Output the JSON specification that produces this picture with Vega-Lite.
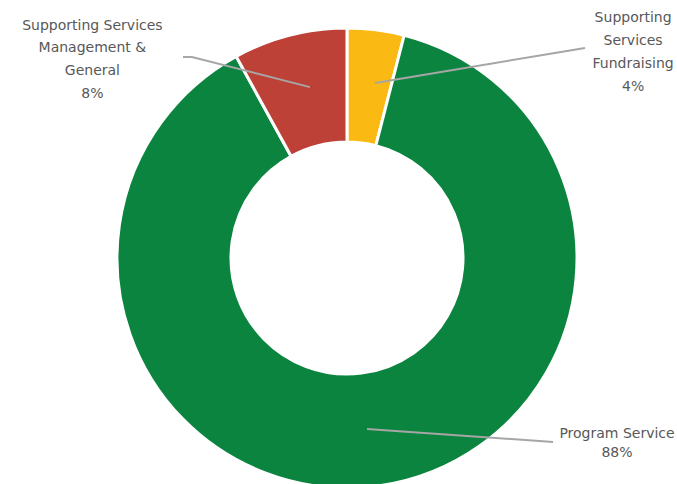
{
  "$schema": "https://vega.github.io/schema/vega-lite/v6.json",
  "width": 677,
  "height": 484,
  "padding": 0,
  "autosize": {"type": "none"},
  "background": "white",
  "config": {"view": {"stroke": null}},
  "datasets": {
    "slices": [
      {"category": "Supporting Services Fundraising", "value": 4, "order": 1},
      {"category": "Program Service", "value": 88, "order": 2},
      {"category": "Supporting Services Management & General", "value": 8, "order": 3}
    ],
    "leaders": [
      {"category": "Management & General", "step": 1, "lx": -0.713, "ly": 0.874},
      {"category": "Management & General", "step": 2, "lx": -0.674, "ly": 0.874},
      {"category": "Management & General", "step": 3, "lx": -0.161, "ly": 0.743},
      {"category": "Fundraising", "step": 1, "lx": 1.035, "ly": 0.913},
      {"category": "Fundraising", "step": 2, "lx": 0.122, "ly": 0.761},
      {"category": "Program Service", "step": 1, "lx": 0.896, "ly": -0.800},
      {"category": "Program Service", "step": 2, "lx": 0.087, "ly": -0.743}
    ],
    "labels": [
      {"category": "Management & General", "group": "a", "label": "Supporting Services\nManagement &\nGeneral\n8%", "lx": -1.107, "ly": 1.040},
      {"category": "Fundraising", "group": "a", "label": "Supporting\nServices\nFundraising\n4%", "lx": 1.244, "ly": 1.072},
      {"category": "Program Service", "group": "b", "label": "Program Service\n88%", "lx": 1.174, "ly": -0.734}
    ]
  },
  "layer": [
    {
      "data": {"name": "slices"},
      "mark": {"type": "arc", "outerRadius": 230, "innerRadius": 116, "stroke": "white", "strokeWidth": 3},
      "encoding": {
        "theta": {"field": "value", "type": "quantitative", "stack": true},
        "order": {"field": "order", "type": "quantitative"},
        "color": {
          "field": "category",
          "type": "nominal",
          "scale": {
            "domain": ["Supporting Services Fundraising", "Program Service", "Supporting Services Management & General"],
            "range": ["#fbb913", "#0a843e", "#be4138"]
          },
          "legend": null
        },
        "x": {"datum": 0, "type": "quantitative", "scale": {"domain": [-1.5087, 1.4348], "nice": false, "zero": false}, "axis": null},
        "y": {"datum": 0, "type": "quantitative", "scale": {"domain": [-0.9826, 1.1217], "nice": false, "zero": false}, "axis": null}
      }
    },
    {
      "data": {"name": "leaders"},
      "mark": {"type": "line", "color": "#a6a6a6", "strokeWidth": 2},
      "encoding": {
        "x": {"field": "lx", "type": "quantitative"},
        "y": {"field": "ly", "type": "quantitative"},
        "detail": {"field": "category"},
        "order": {"field": "step", "type": "quantitative"}
      }
    },
    {
      "data": {"name": "labels"},
      "transform": [{"filter": "datum.group === 'a'"}],
      "mark": {"type": "text", "lineBreak": "\n", "lineHeight": 22.7, "align": "center", "baseline": "top", "font": "DejaVu Sans", "fontSize": 14, "color": "#585858"},
      "encoding": {
        "x": {"field": "lx", "type": "quantitative"},
        "y": {"field": "ly", "type": "quantitative"},
        "text": {"field": "label"}
      }
    },
    {
      "data": {"name": "labels"},
      "transform": [{"filter": "datum.group === 'b'"}],
      "mark": {"type": "text", "lineBreak": "\n", "lineHeight": 19, "align": "center", "baseline": "top", "font": "DejaVu Sans", "fontSize": 14, "color": "#585858"},
      "encoding": {
        "x": {"field": "lx", "type": "quantitative"},
        "y": {"field": "ly", "type": "quantitative"},
        "text": {"field": "label"}
      }
    }
  ]
}
